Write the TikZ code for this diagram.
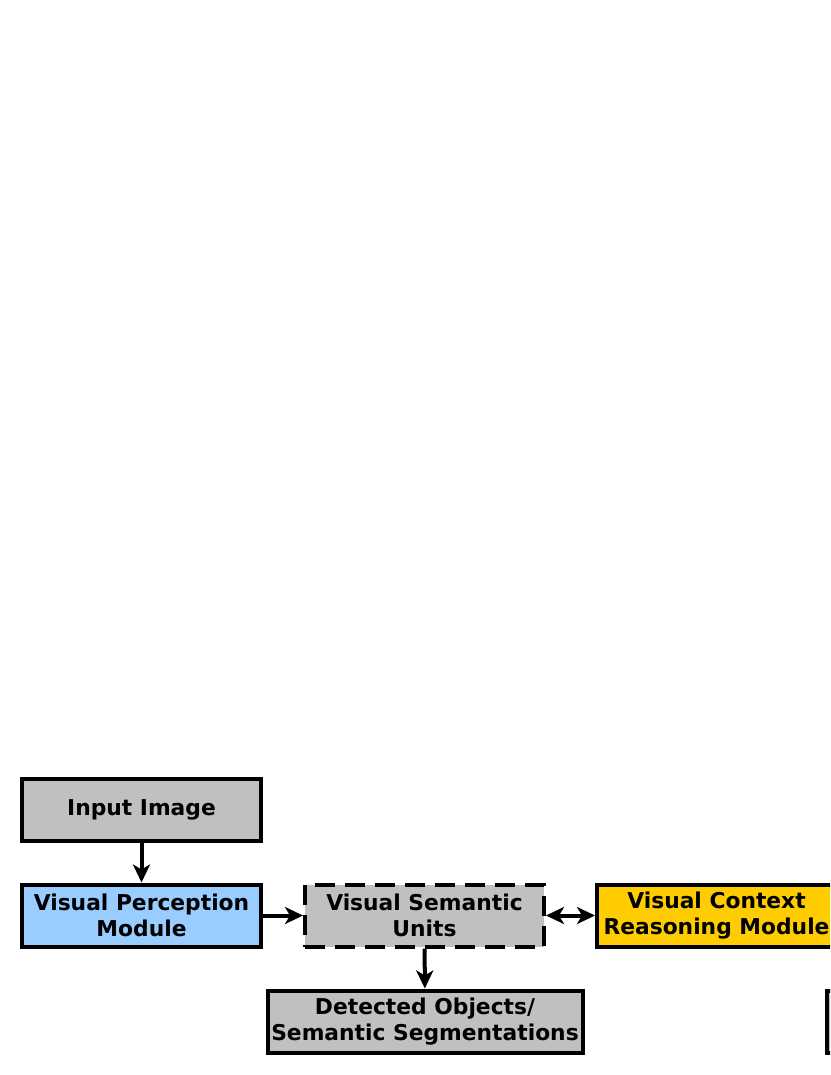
\documentclass[tikz,border=0pt]{standalone}
\usepackage{fontspec}
\setmainfont{DejaVu Sans}
\usetikzlibrary{arrows.meta}
\definecolor{boxgray}{RGB}{192,192,192}
\definecolor{percblue}{RGB}{153,204,255}
\definecolor{reasonyellow}{RGB}{255,204,0}
\tikzset{
    box/.style={draw=black, line width=4pt, fill=boxgray, minimum width=239pt, minimum height=62pt,
        inner sep=0pt, align=center, font=\bfseries\fontsize{21.8}{25.5}\selectfont},
    flow/.style={line width=4pt, -{Stealth[length=18pt, width=17pt, inset=5pt]}},
    twoway/.style={line width=4pt, {Stealth[length=18pt, width=17pt, inset=5pt]}-{Stealth[length=18pt, width=17pt, inset=5pt]}}
}
\begin{document}
\begin{tikzpicture}[x=1pt, y=-1pt]
            \useasboundingbox (0,0) rectangle (830,1075);
            \clip (0,0) rectangle (830,1075);
            \fill[white] (0,0) rectangle (830,1075);
            \node[box] (input) at (141.5,810) {Input Image};
            \node[box, fill=percblue] (percep) at (141.5,915.5) {Visual Perception\\Module};
            \node[box, dash pattern=on 20pt off 10pt] (units) at (424.5,915.5) {Visual Semantic\\Units};
            \node[box, fill=reasonyellow] (reason) at (716.5,915.5) {Visual Context\\Reasoning Module};
            \node[box, minimum width=315pt] (detect) at (425,1021.5) {Detected Objects/\\Semantic Segmentations};
            \node[box] (next) at (946,1021.5) {};
            \draw[flow] (input) -- (percep);
            \draw[flow] (percep) -- (units);
            \draw[twoway] (units) -- (reason);
            \draw[flow] (units) -- (detect);
        \end{tikzpicture}
\end{document}
